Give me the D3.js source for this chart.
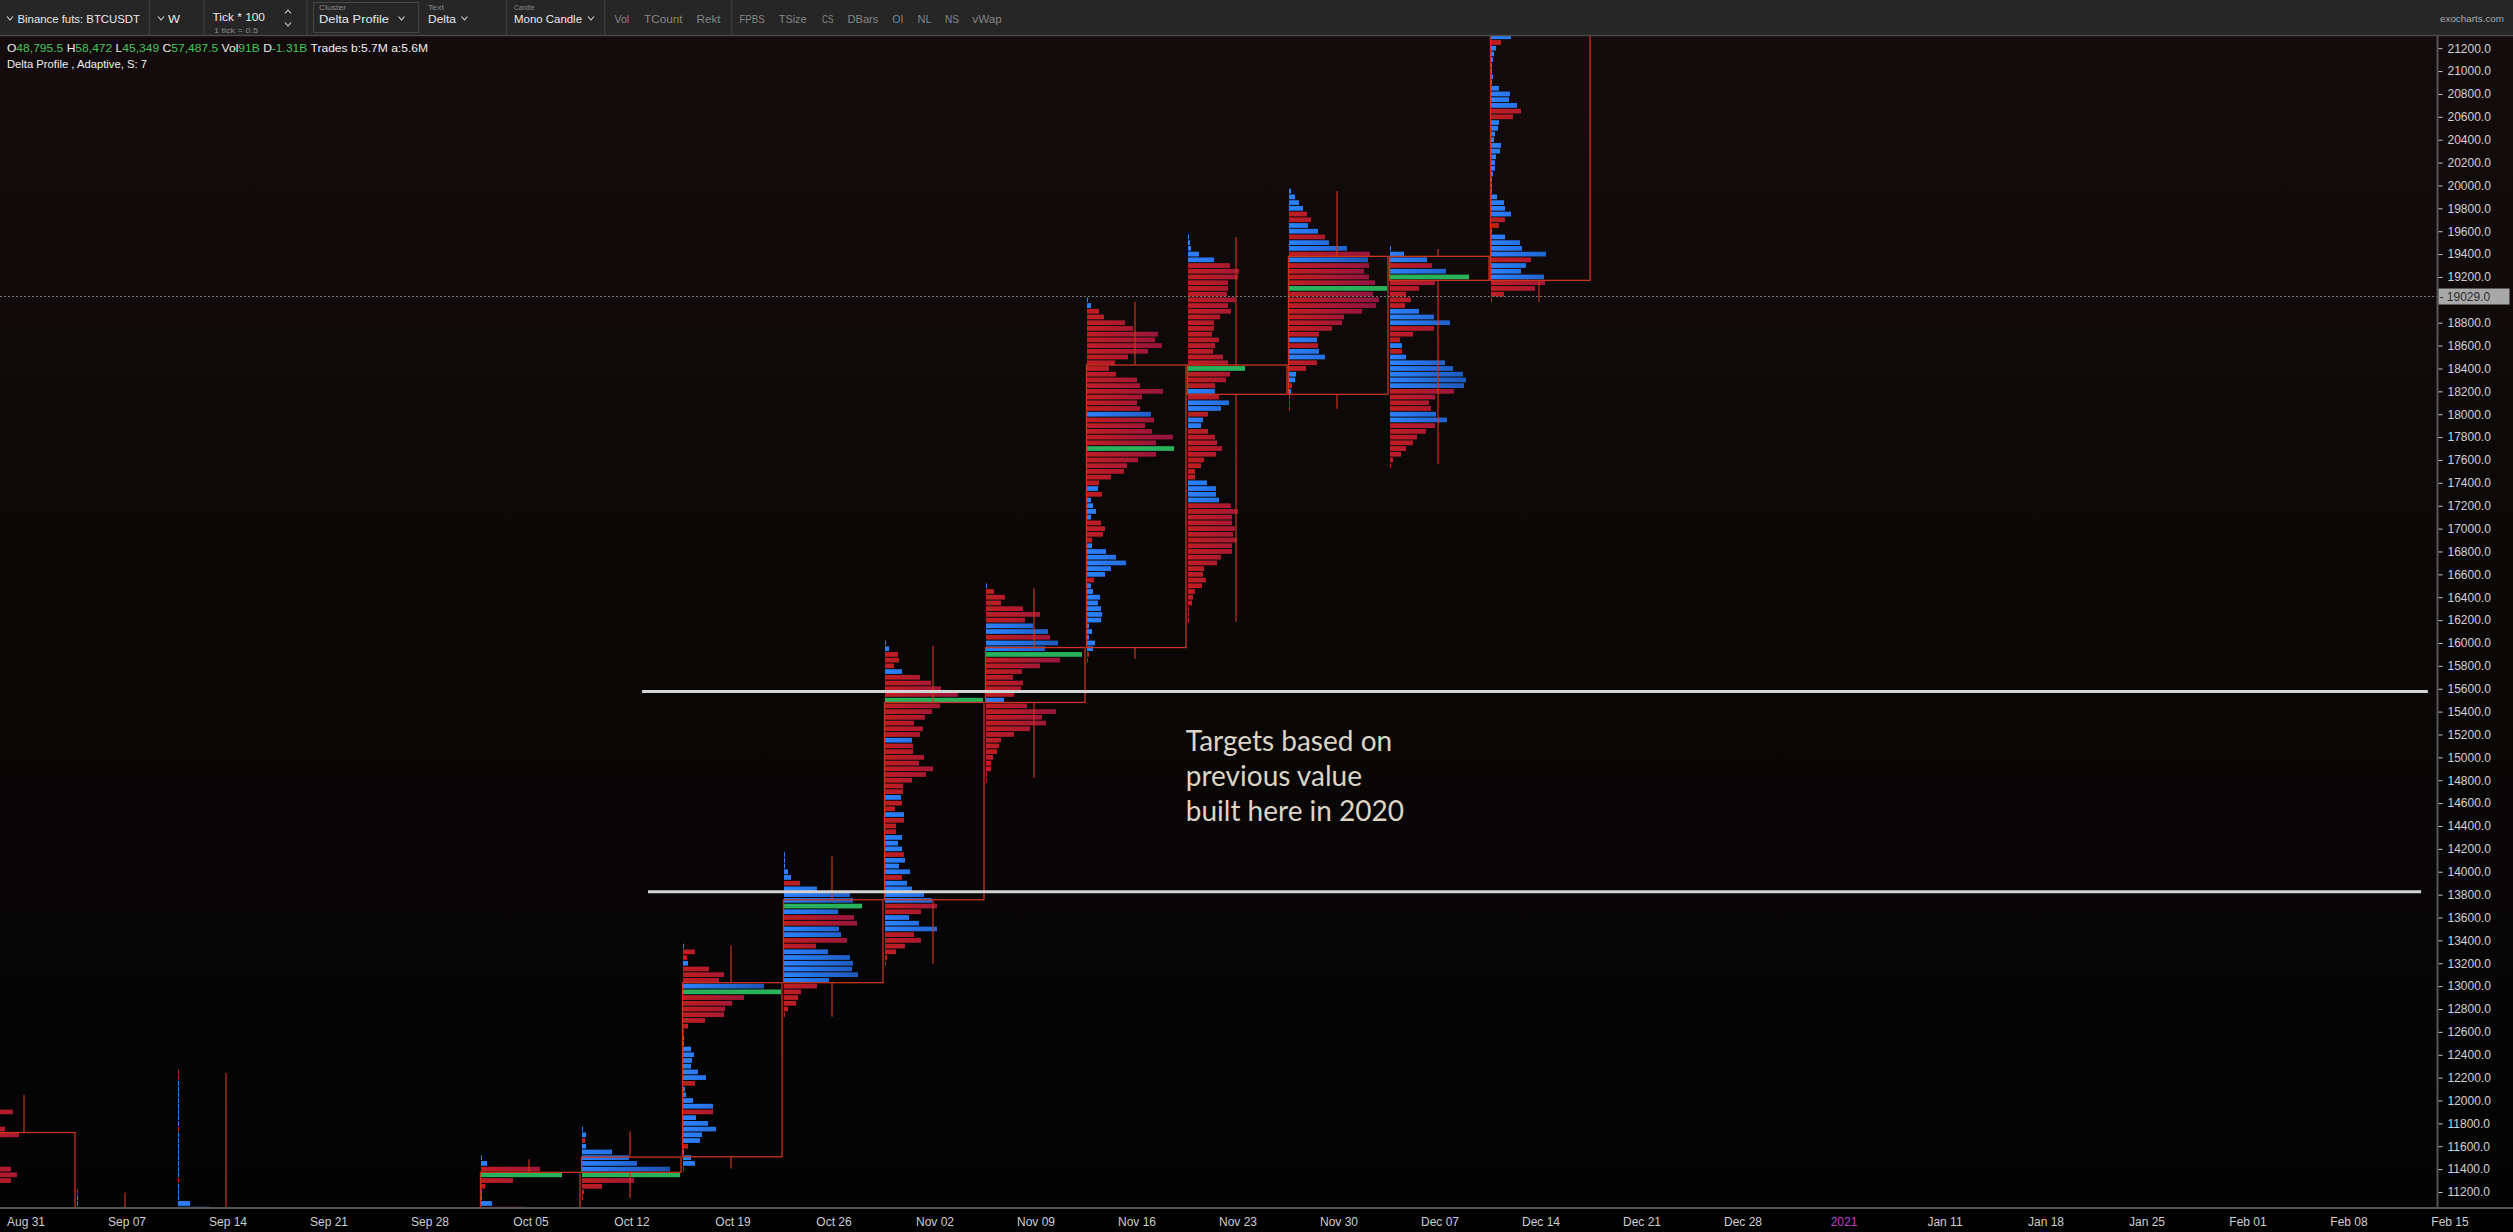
<!DOCTYPE html>
<html><head><meta charset="utf-8">
<script src="https://cdn.jsdelivr.net/npm/d3@7"></script>
<style>
html,body{margin:0;padding:0;background:#000;overflow:hidden}
svg{display:block}
</style></head><body>
<svg id="c" width="2513" height="1232"></svg>
<script>
// ---------------- DATA ----------------
const weekStarts = ["2020-08-31","2020-09-07","2020-09-14","2020-09-21","2020-09-28","2020-10-05","2020-10-12","2020-10-19","2020-10-26","2020-11-02","2020-11-09","2020-11-16","2020-11-23","2020-11-30","2020-12-07","2020-12-14"];
const opens  = [11720,10250,10330,10920,10770,10670,11372,11508,13030,13755,15480,15960,18430,18174,19380,19170];
const highs  = [12050,11195,12240,10990,10950,11487,11730,13355,14135,15975,16478,18980,19550,19950,19445,23800];
const lows   = [ 9880, 9850,10200,10140,10550,10530,11150,11405,12733,13196,14822,15862,16186,18048,17562,18981];
const closes = [10250,10330,10920,10770,10670,11372,11505,13030,13755,15480,15960,18430,18174,19380,19170,23300];

// top price level of each weekly delta profile (levels every 50) and its POC
const profileTop = [12050,11200,12250,null,null,11500,11750,13350,14150,16000,16500,19000,19550,19950,19450,21300];
const pocPrice   = [null,null,null,null,null,11350,11350,12950,13700,15500,15900,17700,18400,19100,19200,null];

// volume per level, top -> bottom; sign = delta (negative: sellers, positive: buyers)
const profAug31 = [-3,-8,-18,-37,-20,-16,-29,-43,-18,-14,-12,-15,-20,-35,-41,-35,-22,-18,-20,-16,-14];
const profSep07 = [-1,1,1,1];
const profSep14 = [-1,-1,1,1,1,1,1,1,1,1,-1,1,1,1,1,1,1,1,1,-1,1,1,1,12,32];
const profOct05 = [1,6,-59,81,-32,-4,1,1,11,-43];
const profOct12 = [1,4,-3,4,30,47,55,88,98,-52,-20,-2,-1];
const profOct19 = [1,-12,-4,5,-26,-41,-36,81,98,-61,-49,-42,-41,-22,-5,-1,1,1,8,11,9,8,15,23,-12,2,3,10,30,-30,13,25,33,19,17,-5,1,8,12,-1];
const profOct26 = [1,1,1,4,7,-16,33,66,69,78,54,-70,-73,55,57,-63,-32,44,66,69,68,74,45,-33,-17,-14,-12,-4,-1];
const profNov02 = [1,4,-13,-14,-9,17,-35,-46,-56,-73,98,-55,-47,-40,-29,-38,-35,27,-28,-28,-39,-34,-48,-41,-27,-18,-18,16,-17,-10,19,-19,-11,-11,17,13,17,-19,20,14,25,-17,22,27,39,47,-52,-36,24,34,52,-29,-36,-20,-11,-2,-1];
const profNov09 = [1,-8,-19,-15,-37,-54,-39,47,62,-64,72,59,96,-74,-54,-36,-27,-37,-35,-28,18,-41,-70,-56,-60,-44,-28,-15,-13,-11,-7,-5,-5,-1,-1];
const profNov16 = [1,4,-12,-17,-38,-46,-71,-68,-75,-61,-41,-28,-22,-29,-50,-53,-76,-55,-50,-53,64,-67,-58,-65,-86,-69,87,-69,-51,-40,-37,-24,-12,11,-15,4,6,9,4,-14,-18,-16,-5,5,19,29,39,24,18,-7,4,6,13,11,14,15,14,2,5,2,8,6,-2,-1];
const profNov23 = [1,2,3,11,26,-42,-51,-50,-40,-40,-39,-47,-40,-43,-32,-26,-26,-24,-31,-27,-25,-35,-40,57,-42,-38,-27,27,-31,41,33,-20,15,13,-20,-27,-29,-34,-28,-16,-13,-7,-7,19,28,28,31,-43,-50,-44,-44,-47,-45,-49,-44,-44,-33,-29,-16,-15,-18,-14,-7,-5,-4,-1,-1,-1];
const profNov30 = [2,6,10,14,-18,-22,19,29,-36,40,58,-81,79,-80,-75,-80,-86,98,-84,-90,-87,-73,-55,-53,-43,-30,28,-29,30,36,-28,-17,7,6,-3,2,-1,-1,-1];
const profDec07 = [1,14,37,-42,56,79,-45,-29,-16,-21,-15,29,44,60,-44,-23,-10,12,-12,16,55,63,73,76,74,-64,-45,-39,-41,46,57,-45,-36,-27,-23,-16,-11,-3,-1];
const profDec14 = [20,-10,5,3,2,1,1,2,1,8,19,18,26,-30,-22,8,7,4,3,10,9,5,4,4,2,1,1,1,6,13,14,20,-14,-8,1,14,29,31,55,-40,35,30,53,-54,-44,-13,-1];
const profiles = [profAug31,profSep07,profSep14,[],[],profOct05,profOct12,profOct19,profOct26,profNov02,profNov09,profNov16,profNov23,profNov30,profDec07,profDec14];

const xTickDates  = ["2020-08-31","2020-09-07","2020-09-14","2020-09-21","2020-09-28","2020-10-05","2020-10-12","2020-10-19","2020-10-26","2020-11-02","2020-11-09","2020-11-16","2020-11-23","2020-11-30","2020-12-07","2020-12-14","2020-12-21","2020-12-28","2021-01-04","2021-01-11","2021-01-18","2021-01-25","2021-02-01","2021-02-08","2021-02-15"];
const xTickLabels = ["Aug 31","Sep 07","Sep 14","Sep 21","Sep 28","Oct 05","Oct 12","Oct 19","Oct 26","Nov 02","Nov 09","Nov 16","Nov 23","Nov 30","Dec 07","Dec 14","Dec 21","Dec 28","2021","Jan 11","Jan 18","Jan 25","Feb 01","Feb 08","Feb 15"];
const yTicks = d3.range(11200, 21201, 200);
const lastPrice = 19029;
const targetPrices = [15575, 13825];
const targetStarts = ["2020-10-12T17:30:00Z","2020-10-13T03:30:00Z"];
const targetEnds   = ["2021-02-13T12:00:00Z","2021-02-13T00:45:00Z"];
const noteLines = ["Targets based on","previous value","built here in 2020"];
const noteAt = {date:"2020-11-19T10:00:00Z", price:15130};

// ---------------- LAYOUT ----------------
const W = 2513, H = 1232, plotTop = 36, plotBottom = 1208, axisX = 2437.5;
const svg = d3.select("#c");
const parse = s => new Date(s.length === 10 ? s + "T00:00:00Z" : s);

const x = d3.scaleUtc().domain([parse("2020-08-31"), parse("2021-02-15")]).range([25.5, 2449.5]);
const y = d3.scaleLinear().domain([11200, 21200]).range([1192.0, 48.2]);
const len = d3.scaleLinear().domain([0, 100]).range([0, 100]);
const step = Math.abs(y(0) - y(50));
const bh = step - 1.0;
const slotLeft = i => x(parse(weekStarts[i])) - 50;

const defs = svg.append("defs");
const bg = defs.append("linearGradient").attr("id","bg").attr("x1",0).attr("x2",0).attr("y1",0).attr("y2",1);
bg.append("stop").attr("offset","0").attr("stop-color","#140c0c");
bg.append("stop").attr("offset","0.5").attr("stop-color","#0b0707");
bg.append("stop").attr("offset","1").attr("stop-color","#030303");
function grad(id, c0, c1){
  const g = defs.append("linearGradient").attr("id",id).attr("gradientUnits","userSpaceOnUse")
    .attr("x1",0).attr("x2",100).attr("y1",0).attr("y2",0);
  g.append("stop").attr("offset","0").attr("stop-color",c0);
  g.append("stop").attr("offset","1").attr("stop-color",c1);
}
grad("gRed", "#c01e22", "#8a1346");
grad("gBlue", "#2c82ff", "#1a4ca6");
defs.append("clipPath").attr("id","clip").append("rect")
  .attr("x",0).attr("y",plotTop).attr("width",axisX).attr("height",plotBottom-plotTop);

// backgrounds
svg.append("rect").attr("x",0).attr("y",0).attr("width",W).attr("height",H).attr("fill","#000");
svg.append("rect").attr("x",0).attr("y",plotTop).attr("width",W).attr("height",plotBottom-plotTop).attr("fill","url(#bg)");

// ---------------- PROFILES ----------------
const gP = svg.append("g").attr("clip-path","url(#clip)");
profiles.forEach((vals, i) => {
  if (!vals.length) return;
  const g = gP.append("g").attr("transform", `translate(${slotLeft(i)},0)`);
  g.selectAll("rect").data(vals).join("rect")
    .attr("x", 0.5)
    .attr("y", (d, j) => y(profileTop[i] - 50 * j) - bh / 2)
    .attr("width", d => Math.max(1, len(Math.abs(d))))
    .attr("height", bh)
    .attr("fill", (d, j) => (profileTop[i] - 50 * j) === pocPrice[i] ? "#2ab15c" : (d < 0 ? "url(#gRed)" : "url(#gBlue)"));
});

// ---------------- CANDLES (mono) ----------------
const candleCol = "#c8341c";
const gC = svg.append("g").attr("clip-path","url(#clip)");
const cdata = weekStarts.map((w, i) => ({i, o:opens[i], h:highs[i], l:lows[i], c:closes[i]}));
gC.selectAll("rect.body").data(cdata).join("rect").attr("class","body")
  .attr("x", d => slotLeft(d.i))
  .attr("y", d => y(Math.max(d.o, d.c)))
  .attr("width", 99.5)
  .attr("height", d => Math.abs(y(d.o) - y(d.c)))
  .attr("fill","none").attr("stroke",candleCol).attr("stroke-width",1.3);
gC.selectAll("line.wt").data(cdata).join("line").attr("class","wt")
  .attr("x1", d => slotLeft(d.i) + 48.5).attr("x2", d => slotLeft(d.i) + 48.5)
  .attr("y1", d => y(d.h)).attr("y2", d => y(Math.max(d.o, d.c)))
  .attr("stroke",candleCol).attr("stroke-width",1.2);
gC.selectAll("line.wb").data(cdata).join("line").attr("class","wb")
  .attr("x1", d => slotLeft(d.i) + 48.5).attr("x2", d => slotLeft(d.i) + 48.5)
  .attr("y1", d => y(Math.min(d.o, d.c))).attr("y2", d => y(d.l))
  .attr("stroke",candleCol).attr("stroke-width",1.2);

// last price dotted line
svg.append("line").attr("x1",0).attr("x2",axisX).attr("y1",y(lastPrice)).attr("y2",y(lastPrice))
  .attr("stroke","#7a7a7a").attr("stroke-width",1).attr("stroke-dasharray","2,2");

// target lines
svg.append("g").selectAll("line").data(targetPrices).join("line")
  .attr("x1",(d,i)=>x(parse(targetStarts[i]))).attr("x2",(d,i)=>x(parse(targetEnds[i])))
  .attr("y1",d=>y(d)).attr("y2",d=>y(d))
  .attr("stroke","#d4d4d4").attr("stroke-width",3);

// note
svg.append("g").selectAll("text").data(noteLines).join("text")
  .attr("x", x(parse(noteAt.date)))
  .attr("y", (d,i) => y(noteAt.price) + 9 + i * 35)
  .attr("fill","#dcd5c6")
  .style("font-family","Lato, 'Open Sans', sans-serif").style("font-size","28px")
  .text(d => d);

// ---------------- AXES ----------------
svg.append("line").attr("x1",axisX).attr("x2",axisX).attr("y1",plotTop).attr("y2",plotBottom)
  .attr("stroke","#555").attr("stroke-width",2);
svg.append("line").attr("x1",0).attr("x2",W).attr("y1",plotBottom).attr("y2",plotBottom)
  .attr("stroke","#555").attr("stroke-width",2);

// tick labels hidden beneath the last-price marker are not drawn
const visibleYTicks = yTicks.filter(t => Math.abs(y(t) - y(lastPrice)) > 9);
const gY = svg.append("g").attr("transform",`translate(${axisX + 1},0)`)
  .call(d3.axisRight(y).tickValues(visibleYTicks).tickSize(4).tickPadding(5).tickFormat(d3.format(".1f")));
gY.select(".domain").remove();
gY.selectAll(".tick line").attr("stroke","#c8c8c8");
gY.selectAll(".tick text").attr("fill","#d2d2d2").style("font-family","'Liberation Sans', Arial, sans-serif").style("font-size","12px");

// last price label
const lp = svg.append("g").attr("transform",`translate(${axisX + 1},${y(lastPrice)})`);
lp.append("rect").attr("x",0).attr("y",-8).attr("width",71).attr("height",16).attr("fill","#a8a8a8");
lp.append("text").attr("x",1).attr("y",4.5).attr("fill","#2e2e2e")
  .style("font-family","'Liberation Sans', Arial, sans-serif").style("font-size","12px")
  .text("- " + d3.format(".1f")(lastPrice));

const gX = svg.append("g").attr("transform",`translate(0,${plotBottom})`)
  .call(d3.axisBottom(x).tickValues(xTickDates.map(parse)).tickSize(0).tickPadding(9)
        .tickFormat((d,i)=>xTickLabels[i]));
gX.select(".domain").remove();
gX.selectAll(".tick text")
  .attr("fill",(d,i)=> xTickLabels[i] === "2021" ? "#c83fc8" : "#cfcfcf")
  .style("font-family","'Liberation Sans', Arial, sans-serif").style("font-size","12px");

// ---------------- TOOLBAR ----------------
svg.append("rect").attr("x",0).attr("y",0).attr("width",W).attr("height",35).attr("fill","#262626");
svg.append("line").attr("x1",0).attr("x2",W).attr("y1",35.5).attr("y2",35.5).attr("stroke","#4a4a4a").attr("stroke-width",1.5);
const FONT = "'Liberation Sans', Arial, sans-serif";
function txt(g, xx, yy, s, size, color, tl){
  const t = g.append("text").attr("x",xx).attr("y",yy).attr("fill",color)
    .style("font-family",FONT).style("font-size",size+"px").text(s);
  if (tl) t.attr("textLength",tl).attr("lengthAdjust","spacingAndGlyphs");
  return t;
}
function chev(g, xx, yy, up){
  const p = up ? [[xx,yy+2],[xx+3,yy-1.5],[xx+6,yy+2]] : [[xx,yy-2],[xx+3,yy+1.5],[xx+6,yy-2]];
  g.append("polyline").attr("points",p.map(q=>q.join(",")).join(" "))
    .attr("fill","none").attr("stroke","#d8d8d8").attr("stroke-width",1.1);
}
const tb = svg.append("g");
[149.4, 204, 307, 506.5, 604.7, 731.7].forEach(sx =>
  tb.append("line").attr("x1",sx).attr("x2",sx).attr("y1",0).attr("y2",35).attr("stroke","#3c3c3c").attr("stroke-width",1.2));
tb.append("rect").attr("x",313.6).attr("y",2.5).attr("width",105.2).attr("height",30).attr("fill","none").attr("stroke","#474747");
chev(tb, 7, 18.5); txt(tb, 17.5, 22.5, "Binance futs: BTCUSDT", 11.5, "#e8e8e8", 122.5);
chev(tb, 158, 18.5); txt(tb, 168, 22.5, "W", 11.5, "#e8e8e8", 12);
txt(tb, 212.5, 21, "Tick * 100", 11.5, "#e8e8e8", 52.5);
txt(tb, 214, 32.5, "1 tick = 0.5", 7.5, "#8a8a8a", 44);
chev(tb, 285, 11.5, true); chev(tb, 285, 24.5, false);
txt(tb, 319, 9.5, "Cluster", 7.5, "#8a8a8a", 27);
txt(tb, 319, 22.5, "Delta Profile", 11.5, "#e8e8e8", 70); chev(tb, 398.5, 18.5);
txt(tb, 428, 9.5, "Text", 7.5, "#8a8a8a", 16);
txt(tb, 428, 22.5, "Delta", 11.5, "#e8e8e8", 28); chev(tb, 461.5, 18.5);
txt(tb, 514, 9.5, "Candle", 7.5, "#8a8a8a", 20.5);
txt(tb, 514, 22.5, "Mono Candle", 11.5, "#e8e8e8", 68); chev(tb, 588, 18.5);
[["Vol",614.5,14.5],["TCount",644,38.6],["Rekt",696.6,24],["FPBS",739.4,25.3],["TSize",778.7,28],["CS",822,11.4],
 ["DBars",847.4,31],["OI",892.3,11.2],["NL",917.6,14],["NS",945,14],["vWap",972.3,29.5]]
 .forEach(([s,xx,l]) => txt(tb, xx, 22.5, s, 11.5, "#858585", l));
txt(tb, 2440, 21.5, "exocharts.com", 9.5, "#a8a8a8", 64);

// info lines
const info = svg.append("text").attr("x",7).attr("y",52.3)
  .style("font-family",FONT).style("font-size","11px")
  .attr("textLength",421).attr("lengthAdjust","spacingAndGlyphs");
[["O","#f0f0f0"],["48,795.5","#46c35f"],[" H","#f0f0f0"],["58,472","#46c35f"],[" L","#f0f0f0"],["45,349","#46c35f"],
 [" C","#f0f0f0"],["57,487.5","#46c35f"],[" Vol","#f0f0f0"],["91B","#46c35f"],[" D","#f0f0f0"],["-1.31B","#46c35f"],
 [" Trades b:5.7M a:5.6M","#f0f0f0"]].forEach(([s,c]) => info.append("tspan").attr("fill",c).text(s));
txt(svg, 7, 68.3, "Delta Profile , Adaptive, S: 7", 11, "#f0f0f0", 140);
</script>
</body></html>
